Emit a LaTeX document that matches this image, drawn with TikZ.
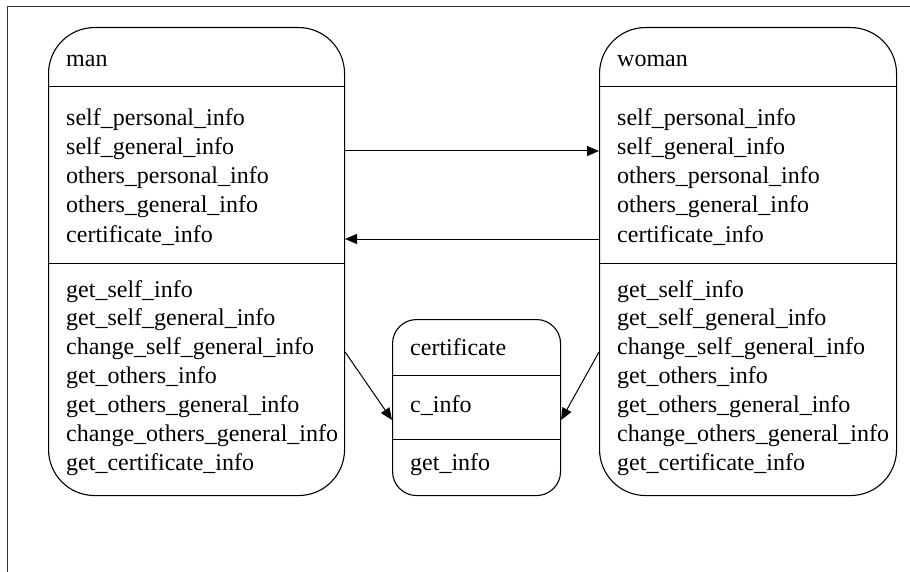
\documentclass[tikz,border=0pt]{standalone}
\usepackage{fontspec}
\setmainfont{Liberation Serif}
\usetikzlibrary{arrows.meta}
\begin{document}
\begin{tikzpicture}[x=1pt, y=-1pt,
  classbox/.style={draw, line width=1.1pt, rounded corners=#1, inner sep=0pt,
                   anchor=north west, minimum width=0pt, minimum height=0pt},
  sep/.style={draw, line width=1pt},
  txt/.style={anchor=base west, inner sep=0pt, font=\fontsize{24}{29}\selectfont},
  link/.style={draw, line width=1pt, -{Triangle[length=12pt, width=10pt]}},
  frame/.style={draw, line width=1pt, black!80}
]
\useasboundingbox (0,0) rectangle (910,572);

% outer frame: top and left edges only
\draw[frame] (910,7) -- (7,7) -- (7,572);

% class boxes
\node[classbox=46pt, minimum width=296pt, minimum height=468pt] (man) at (48,27) {};
\node[classbox=46pt, minimum width=297pt, minimum height=468pt] (woman) at (599,27) {};
\node[classbox=24pt, minimum width=168pt, minimum height=176pt] (cert) at (392,319) {};

% compartment separators
\draw[sep] (man.west |- 0,87) -- (man.east |- 0,87);
\draw[sep] (man.west |- 0,263) -- (man.east |- 0,263);
\draw[sep] (woman.west |- 0,87) -- (woman.east |- 0,87);
\draw[sep] (woman.west |- 0,263) -- (woman.east |- 0,263);
\draw[sep] (cert.west |- 0,375) -- (cert.east |- 0,375);
\draw[sep] (cert.west |- 0,439) -- (cert.east |- 0,439);

% class names
\node[txt] (man-name) at (66,67) {man};
\node[txt] (woman-name) at (617,67) {woman};
\node[txt] (cert-name) at (410,355) {certificate};

% attributes
\foreach \t [count=\i] in {self\_personal\_info, self\_general\_info,
    others\_personal\_info, others\_general\_info, certificate\_info} {
  \node[txt] (man-a\i) at (66,{126+29*(\i-1)}) {\t};
  \node[txt] (woman-a\i) at (617,{126+29*(\i-1)}) {\t};
}
\node[txt] (cert-a1) at (410,412) {c\_info};

% operations
\foreach \t [count=\i] in {get\_self\_info, get\_self\_general\_info,
    change\_self\_general\_info, get\_others\_info, get\_others\_general\_info,
    change\_others\_general\_info, get\_certificate\_info} {
  \node[txt] (man-m\i) at (66,{297+28.85*(\i-1)}) {\t};
  \node[txt] (woman-m\i) at (617,{297+28.85*(\i-1)}) {\t};
}
\node[txt] (cert-m1) at (410,470) {get\_info};

% associations
\draw[link] (man.east |- 0,151) -- (woman.west |- 0,151);
\draw[link] (woman.west |- 0,239) -- (man.east |- 0,239);
\draw[link] (man.east |- 0,352) -- (cert.west |- 0,420);
\draw[link] (woman.west |- 0,352) -- (cert.east |- 0,420);
\end{tikzpicture}
\end{document}
